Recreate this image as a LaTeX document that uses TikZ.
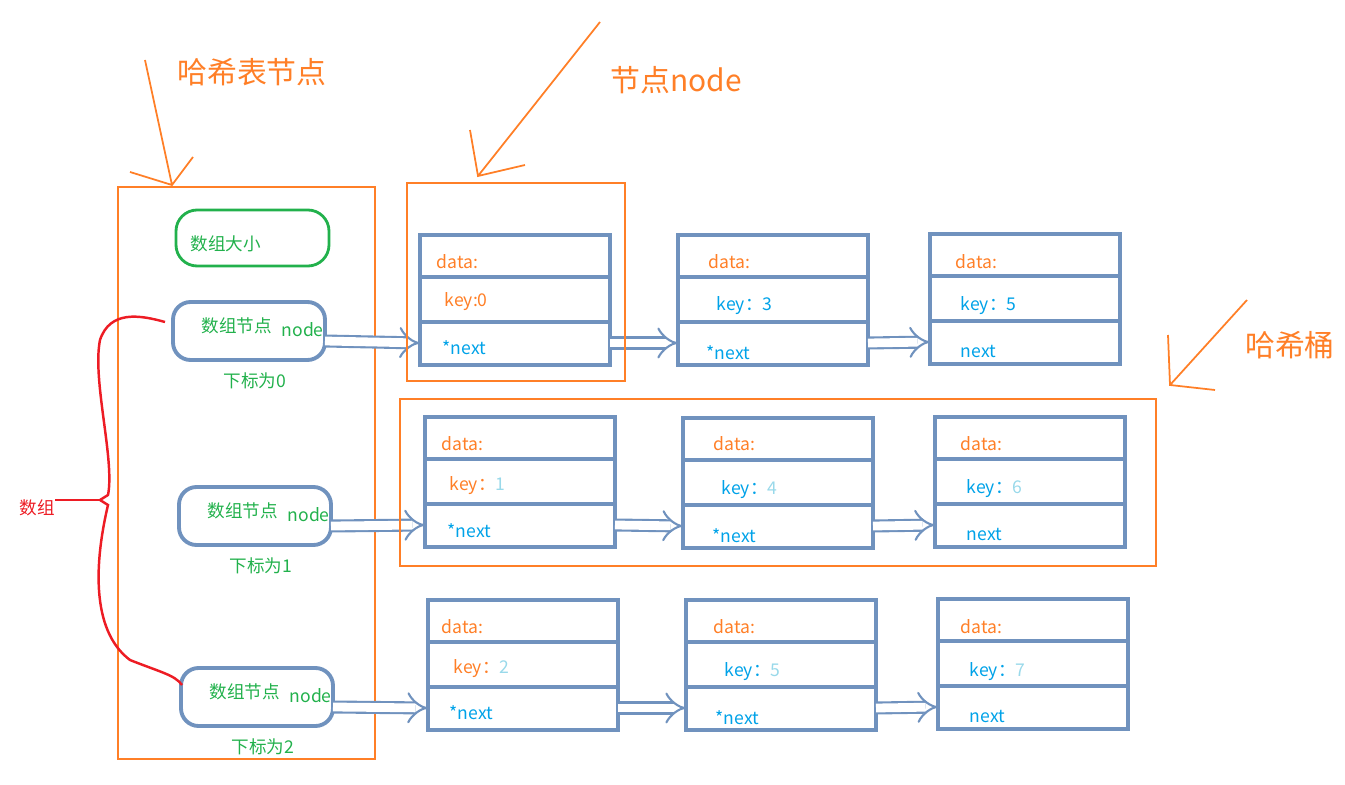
\documentclass[tikz,border=0pt]{standalone}
\usepackage{fontspec}
\setmainfont{Noto Sans CJK SC}
\usetikzlibrary{arrows.meta}
\definecolor{hashorange}{RGB}{255,127,39}
\definecolor{steel}{RGB}{112,146,190}
\definecolor{cellblue}{RGB}{0,162,232}
\definecolor{lightnum}{RGB}{153,217,234}
\definecolor{arrgreen}{RGB}{34,177,76}
\definecolor{bracered}{RGB}{237,28,36}
\tikzset{
  orangebox/.style={draw=hashorange, line width=0.7pt},
  cell/.style={draw=steel, line width=1.1pt},
  slot/.style={draw=steel, line width=1.1pt, rounded corners=5pt},
  ptr/.style={draw=steel, double=white, double distance=2.5pt, line width=0.6pt, -{Implies[length=4pt]}},
  callout/.style={draw=hashorange, line width=0.5pt},
  small/.style={font=\fontsize{5}{6}\selectfont, inner sep=0pt, anchor=west},
  title/.style={font=\fontsize{8.5}{10}\selectfont, text=hashorange, inner sep=0pt}
}
% one linked-list node: #1 name, #2 left, #3 top
\newcommand{\listcell}[3]{
  \draw[cell] (#2,#3) rectangle ++(190,130);
  \draw[cell] (#2,#3+42) -- ++(190,0);
  \draw[cell] (#2,#3+87) -- ++(190,0);
  \coordinate (#1w) at (#2,#3+108);
  \coordinate (#1e) at (#2+190,#3+108);
}
\begin{document}
\begin{tikzpicture}[x=0.01cm, y=-0.01cm]
\useasboundingbox (0,0) rectangle (1345,785);
% hash table
\draw[orangebox] (118,187) rectangle (375,759);
\draw[draw=arrgreen, line width=0.8pt, rounded corners=6pt] (176,210) rectangle (329,266);
\node[small, text=arrgreen] (size) at (190,244) {数组大小};
\foreach \i/\x/\y in {0/173/302, 1/179/487, 2/181/668}{
  \draw[slot] (\x,\y) rectangle ++(152,58);
  \node[small, text=arrgreen] (slot\i) at (\x+28,\y+24) {数组节点};
  \node[small, text=arrgreen] at (\x+108,\y+28) {node};
  \coordinate (s\i) at (\x+152,\y+39);
  \node[small, text=arrgreen] (idx\i) at (\x+50,\y+79) {下标为\i};
}
% list nodes
\listcell{a1}{420}{235} \listcell{a2}{678}{235} \listcell{a3}{930}{234}
\listcell{b1}{425}{417} \listcell{b2}{683}{418} \listcell{b3}{935}{417}
\listcell{c1}{428}{600} \listcell{c2}{686}{600} \listcell{c3}{938}{599}
\foreach \y/\d in {262/0, 444/5, 627/5}{
  \foreach \x in {436, 708, 955}{
    \node[small, text=hashorange] at (\x+\d,\y) {data:};
  }
}
\node[small, text=hashorange] at (444,302) {key:0};
\node[small, text=cellblue] at (716,306) {key：3};
\node[small, text=cellblue] at (960,306) {key：5};
\node[small, text=hashorange] at (449,486) {key：\textcolor{lightnum}{1}};
\node[small, text=cellblue] at (721,490) {key：\textcolor{lightnum}{4}};
\node[small, text=cellblue] at (966,489) {key：\textcolor{lightnum}{6}};
\node[small, text=hashorange] at (453,669) {key：\textcolor{lightnum}{2}};
\node[small, text=cellblue] at (724,672) {key：\textcolor{lightnum}{5}};
\node[small, text=cellblue] at (969,672) {key：\textcolor{lightnum}{7}};
\node[small, text=cellblue] at (442,348) {*next};
\node[small, text=cellblue] at (706,353) {*next};
\node[small, text=cellblue] at (960,351) {next};
\node[small, text=cellblue] at (447,531) {*next};
\node[small, text=cellblue] at (712,536) {*next};
\node[small, text=cellblue] at (966,534) {next};
\node[small, text=cellblue] at (449,713) {*next};
\node[small, text=cellblue] at (715,718) {*next};
\node[small, text=cellblue] at (969,716) {next};
% pointers
\draw[ptr] (s0) -- (a1w);
\draw[ptr] (s1) -- (b1w);
\draw[ptr] (s2) -- (c1w);
\draw[ptr] (a1e) -- (a2w); \draw[ptr] (a2e) -- (a3w);
\draw[ptr] (b1e) -- (b2w); \draw[ptr] (b2e) -- (b3w);
\draw[ptr] (c1e) -- (c2w); \draw[ptr] (c2e) -- (c3w);
% callouts
\draw[orangebox] (407,183) rectangle (625,381);
\draw[orangebox] (400,399) rectangle (1156,566);
\node[title] (tbl) at (252,72) {哈希表节点};
\node[title] (nd) at (676,80) {节点node};
\node[title] (bkt) at (1290,345) {哈希桶};
\coordinate (t1) at (172,185); \coordinate (t2) at (478,176); \coordinate (t3) at (1170,385);
\draw[callout] (145,60) -- (t1) (130,172) -- (t1) -- (193,157);
\draw[callout] (600,22) -- (t2) (470,130) -- (t2) -- (525,165);
\draw[callout] (1247,300) -- (t3) (1168,335) -- (t3) -- (1215,390);
% brace
\draw[draw=bracered, line width=0.7pt] (165,322) .. controls (140,315) and (110,310) .. (100,340)
  .. controls (92,380) and (115,460) .. (108,495) -- (100,500) -- (108,505)
  .. controls (95,560) and (90,630) .. (130,660) .. controls (160,672) and (175,675) .. (182,685);
\node[font=\fontsize{5}{6}\selectfont, text=bracered, inner sep=0pt] (arr) at (37,508) {数组};
\draw[draw=bracered, line width=0.7pt] (55,500) -- (100,500);
\end{tikzpicture}
\end{document}
